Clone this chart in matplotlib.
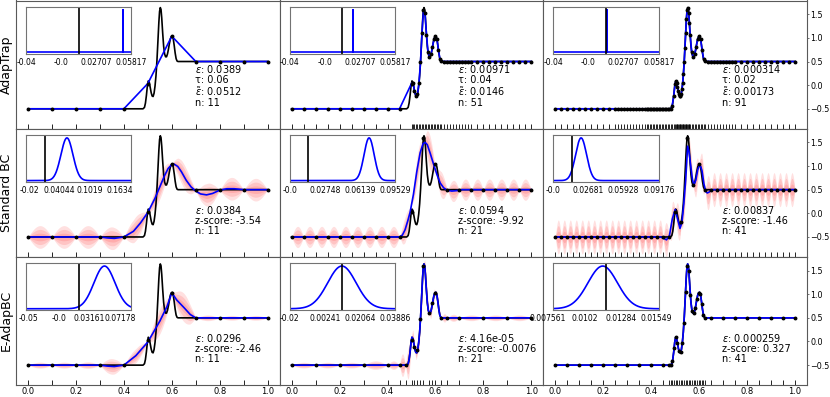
import numpy as np
import matplotlib
matplotlib.use("Agg")
import matplotlib.pyplot as plt

# ---------------- data ----------------
# true function (black curve)
TRUE_X = [0.0, 0.480, 0.486, 0.490, 0.494, 0.498, 0.502, 0.506, 0.510, 0.514,
          0.518, 0.522, 0.526, 0.530, 0.534, 0.538, 0.542, 0.546, 0.549, 0.552,
          0.555, 0.558, 0.562, 0.566, 0.570, 0.574, 0.578, 0.582, 0.586, 0.590,
          0.594, 0.598, 0.602, 0.606, 0.610, 0.614, 0.618, 0.622, 0.626, 1.0]
TRUE_Y = [-0.5, -0.5, -0.47, -0.38, -0.22, -0.02, 0.09, 0.06, -0.05, -0.16,
          -0.23, -0.24, -0.17, -0.02, 0.20, 0.52, 0.92, 1.33, 1.56, 1.64,
          1.60, 1.42, 1.10, 0.82, 0.66, 0.60, 0.60, 0.66, 0.76, 0.88,
          0.98, 1.03, 1.04, 0.98, 0.84, 0.68, 0.56, 0.51, 0.50, 0.50]

ROW_LABELS = ["AdapTrap", "Standard BC", "E-AdapBC"]

# quadrature nodes of each panel
AT_NODES = [
    np.linspace(0, 1, 11),
    np.concatenate([np.linspace(0, 0.45, 10), np.linspace(0.5, 0.625, 21),
                    np.linspace(0.6375, 0.75, 10), np.linspace(0.775, 1.0, 10)]),
    np.concatenate([np.arange(0, 0.25, 0.025), np.arange(0.25, 0.375, 0.0125),
                    np.arange(0.375, 0.5, 0.00625), np.arange(0.5, 0.5625, 0.003125),
                    np.arange(0.5625, 0.625, 0.00625), np.arange(0.625, 0.75, 0.0125),
                    np.linspace(0.75, 1.0, 11)]),
]
SBC_NODES = [np.linspace(0, 1, 11), np.linspace(0, 1, 21), np.linspace(0, 1, 41)]
EA_NODES = [
    np.linspace(0, 1, 11),
    np.array([0, 0.1, 0.2, 0.3, 0.4, 0.45, 0.475, 0.5, 0.5125, 0.525, 0.5375, 0.55,
              0.575, 0.5875, 0.6, 0.625, 0.65, 0.7, 0.8, 0.9, 1.0]),
    np.concatenate([np.linspace(0, 0.45, 10), np.linspace(0.475, 0.625, 23),
                    np.linspace(0.65, 1.0, 8)]),
]

# posterior means (blue) for BC rows
SBC_MX = [
    [0.0, 0.3, 0.33, 0.36, 0.4, 0.44, 0.47, 0.5, 0.53, 0.55, 0.57, 0.585, 0.6, 0.61,
     0.625, 0.64, 0.66, 0.68, 0.7, 0.72, 0.745, 0.77, 0.8, 0.83, 0.86, 0.9, 1.0],
    [0.0, 0.45, 0.462, 0.473, 0.485, 0.494, 0.508, 0.522, 0.536, 0.548, 0.557, 0.566,
     0.578, 0.592, 0.606, 0.62, 0.634, 0.648, 0.668, 0.69, 0.71, 1.0],
    [0.0, 0.44, 0.452, 0.464, 0.476, 0.488, 0.5, 0.51, 0.52, 0.528, 0.536, 0.544, 0.552,
     0.558, 0.565, 0.572, 0.578, 0.586, 0.594, 0.603, 0.612, 0.62, 0.628, 0.634, 0.642,
     0.65, 0.66, 1.0],
]
SBC_MY = [
    [-0.5, -0.5, -0.52, -0.53, -0.5, -0.38, -0.2, 0.02, 0.32, 0.56, 0.8, 0.95, 1.03, 1.04,
     0.99, 0.88, 0.7, 0.56, 0.47, 0.41, 0.39, 0.42, 0.49, 0.52, 0.52, 0.5, 0.5],
    [-0.5, -0.5, -0.46, -0.35, -0.15, 0.02, 0.4, 0.88, 1.28, 1.47, 1.5, 1.45,
     1.27, 1.04, 0.82, 0.64, 0.54, 0.49, 0.47, 0.48, 0.5, 0.5],
    [-0.5, -0.5, -0.53, -0.56, -0.47, -0.12, 0.08, -0.12, -0.32, -0.2, 0.2, 0.71, 1.42,
     1.3, 1.0, 0.72, 0.6, 0.7, 0.92, 1.04, 0.9, 0.62, 0.46, 0.43, 0.45,
     0.49, 0.5, 0.5],
]
EA_MX = [
    [0.0, 0.3, 0.33, 0.36, 0.4, 0.45, 0.5, 0.55, 0.58, 0.6, 0.62, 0.652, 0.677, 0.7, 1.0],
    TRUE_X,
    TRUE_X,
]
EA_MY = [
    [-0.5, -0.5, -0.52, -0.53, -0.5, -0.3, -0.01, 0.43, 0.74, 1.03, 0.88, 0.71, 0.57, 0.5, 0.5],
    TRUE_Y,
    TRUE_Y,
]

# largest posterior std. dev. within each node interval
SBC_SIG = [
    [0.08, 0.08, 0.08, 0.08, 0.085, 0.085, 0.085, 0.08, 0.08, 0.08],
    [0.075] * 9 + [0.09, 0.10, 0.12, 0.09] + [0.075] * 7,
    [0.12] * 40,
]
EA_SIG = [
    [0.021, 0.021, 0.023, 0.055, 0.05, 0.09, 0.10, 0.02, 0.017, 0.017],
    [0.02, 0.02, 0.02, 0.03, 0.03, 0.08, 0.11, 0.06, 0.05, 0.07, 0.10, 0.08, 0.05,
     0.04, 0.04, 0.03, 0.025, 0.02, 0.02, 0.02],
    [0.004] * 9 + [0.006] + [0.012, 0.015, 0.012, 0.01, 0.012, 0.015, 0.012, 0.01, 0.012,
                            0.015, 0.012, 0.01, 0.008, 0.008, 0.01, 0.008, 0.006, 0.006,
                            0.005, 0.005, 0.005, 0.005] + [0.005] + [0.004] * 7,
]

# annotations
AT_EPS = ["0.0389", "0.00971", "0.000314"]
AT_TAU = ["0.06", "0.04", "0.02"]
AT_EPS_T = ["0.0512", "0.0146", "0.00173"]
SBC_EPS = ["0.0384", "0.0594", "0.00837"]
SBC_Z = ["-3.54", "-9.92", "-1.46"]
EA_EPS = ["0.0296", "4.16e-05", "0.000259"]
EA_Z = ["-2.46", "-0.0076", "0.327"]

# insets (in inset-fraction units)
INSET_TRUE = [[0.503, 0.497, 0.503], [0.176, 0.177, 0.177], [0.498, 0.5, 0.5]]
INSET_SPIKE = [0.915, 0.60, 0.505]
INSET_MU = [[0.388, 0.753, 0.263], [0.744, 0.495, 0.468]]
INSET_SD = [[0.057, 0.048, 0.052], [0.10, 0.135, 0.14]]
INSET_TICKPOS = [
    [[0.0, 1/3, 2/3, 1.0]] * 3,
    [[0.03, 0.315, 0.6, 0.885], [0.0, 1/3, 2/3, 1.0], [0.0, 1/3, 2/3, 1.0]],
    [[0.02, 0.31, 0.6, 0.89], [0.0, 1/3, 2/3, 1.0], [-0.05, 0.3, 0.645, 0.98]],
]
INSET_LABELS = [
    [["-0.04", "-0.0", "0.02707", "0.05817"]] * 3,
    [["-0.02", "0.04044", "0.1019", "0.1634"], ["-0.0", "0.02748", "0.06139", "0.09529"],
     ["-0.0", "0.02681", "0.05928", "0.09176"]],
    [["-0.05", "-0.0", "0.03161", "0.07178"], ["-0.02", "0.00241", "0.02064", "0.03886"],
     ["0.007561", "0.0102", "0.01284", "0.01549"]],
]

# ---------------- figure ----------------
fig = plt.figure(figsize=(8.3, 3.97), dpi=100)
L, R = 16 / 830, 807 / 830
T, B = 1 - 0.5 / 397, 1 - 385.0 / 397
W, H = (R - L) / 3, (T - B) / 3
SPC = "0.35"


def bubble_band(ax, nodes, sig, mx, my):
    xs, ss = [], []
    t = np.linspace(0, 1, 30)
    for i in range(len(nodes) - 1):
        a, b = nodes[i], nodes[i + 1]
        xs.append(a + (b - a) * t)
        ss.append(sig[i] * np.sin(np.pi * t))
    xs = np.concatenate(xs)
    ss = np.concatenate(ss)
    m = np.interp(xs, mx, my)
    for k in (3, 2, 1):
        ax.fill_between(xs, m - k * ss, m + k * ss, color="red", alpha=0.12, lw=0, zorder=1)


def style_inset(ins, r, c):
    ins.set_xlim(0, 1)
    ins.set_ylim(-0.03, 1.06)
    ins.set_xticks([])
    ins.set_yticks([])
    for s in ins.spines.values():
        s.set_color("0.45")
        s.set_linewidth(0.8)
    for p, lab in zip(INSET_TICKPOS[r][c], INSET_LABELS[r][c]):
        ins.text(p, -0.09, lab, transform=ins.transAxes, ha="center", va="top",
                 fontsize=5.5, clip_on=False)


for r in range(3):
    for c in range(3):
        ax = fig.add_axes([L + c * W, T - (r + 1) * H, W, H])
        ax.set_xlim(-0.05, 1.05)
        ax.set_ylim(-0.92, 1.79)
        for s in ax.spines.values():
            s.set_color(SPC)
            s.set_linewidth(0.8)

        if r == 0:
            nodes = AT_NODES[c]
            ny = np.interp(nodes, TRUE_X, TRUE_Y)
            ax.plot(TRUE_X, TRUE_Y, color="k", lw=1.2, zorder=2)
            ax.plot(nodes, ny, color="blue", lw=1.2, zorder=3)
            ax.plot(nodes, ny, "o", color="k", ms=1.8, zorder=4)
            txt = ("$\\epsilon$: " + AT_EPS[c] + "\nτ: " + AT_TAU[c] +
                   "\n$\\tilde{\\epsilon}$: " + AT_EPS_T[c] + "\nn: " + str(len(nodes)))
        else:
            nodes = SBC_NODES[c] if r == 1 else EA_NODES[c]
            mx = SBC_MX[c] if r == 1 else EA_MX[c]
            my = SBC_MY[c] if r == 1 else EA_MY[c]
            sig = SBC_SIG[c] if r == 1 else EA_SIG[c]
            ny = np.interp(nodes, TRUE_X, TRUE_Y)
            bubble_band(ax, nodes, sig, mx, my)
            ax.plot(TRUE_X, TRUE_Y, color="k", lw=1.2, zorder=2)
            ax.plot(mx, my, color="blue", lw=1.2, zorder=3)
            ax.plot(nodes, ny, "o", color="k", ms=1.8, zorder=4)
            eps = SBC_EPS[c] if r == 1 else EA_EPS[c]
            z = SBC_Z[c] if r == 1 else EA_Z[c]
            txt = "$\\epsilon$: " + eps + "\nz-score: " + z + "\nn: " + str(len(nodes))

        ax.text(0.678, 0.165, txt, transform=ax.transAxes, ha="left", va="bottom",
                fontsize=7, linespacing=1.0, zorder=6)

        # rug of nodes as inward minor ticks
        ax.xaxis.remove_overlapping_locs = False
        ax.set_xticks(nodes, minor=True)
        ax.tick_params(axis="x", which="minor", direction="in", length=3.5, width=0.6,
                       color="k", bottom=True)
        if r == 2:
            ax.set_xticks([0, 0.2, 0.4, 0.6, 0.8, 1.0])
            ax.tick_params(axis="x", which="major", length=0, labelsize=6, pad=1.5)
        else:
            ax.set_xticks([])
        if c == 2:
            ax.yaxis.tick_right()
            ax.set_yticks([-0.5, 0, 0.5, 1.0, 1.5])
            ax.tick_params(axis="y", which="major", length=1.5, width=0.6, color=SPC,
                           labelsize=5.8, pad=1)
        else:
            ax.set_yticks([])
        if c == 0:
            ax.set_ylabel(ROW_LABELS[r], fontsize=9, labelpad=2)

        ins = ax.inset_axes([0.038, 0.585, 0.40, 0.363])
        xx = np.linspace(0, 1, 400)
        if r == 0:
            p = INSET_SPIKE[c]
            ins.plot([0, p, p, p, 1], [0, 0, 1, 0, 0], color="blue", lw=1.2)
        else:
            mu, sd = INSET_MU[r - 1][c], INSET_SD[r - 1][c]
            ins.plot(xx, np.exp(-0.5 * ((xx - mu) / sd) ** 2), color="blue", lw=1.2)
        ins.axvline(INSET_TRUE[r][c], color="k", lw=1.2)
        style_inset(ins, r, c)

fig.savefig("out.png", dpi=100)
